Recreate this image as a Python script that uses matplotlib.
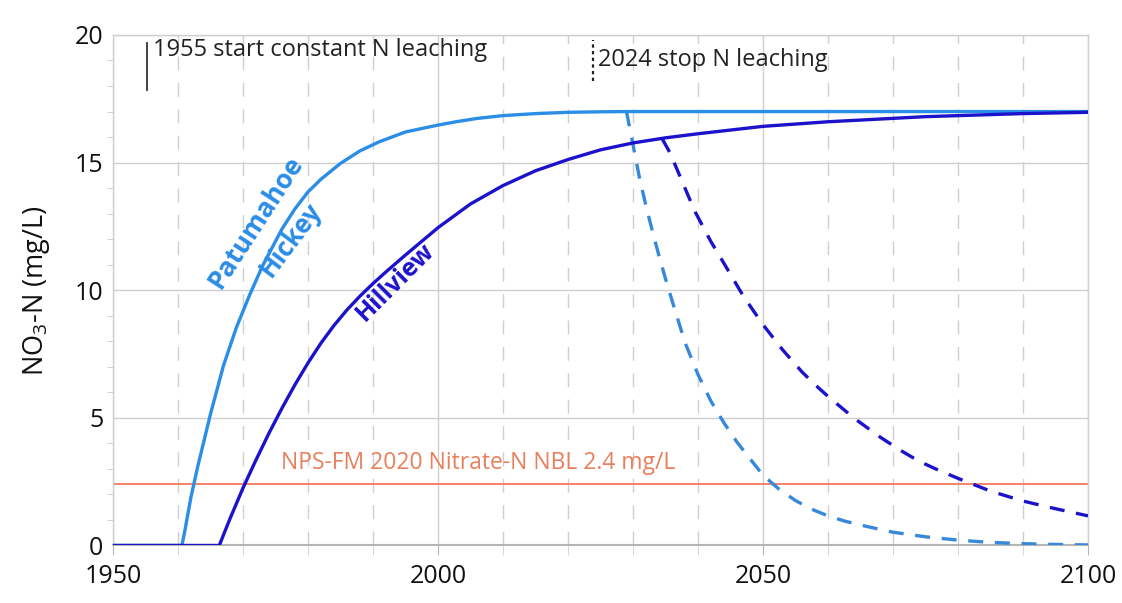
import matplotlib
matplotlib.use("Agg")
import matplotlib.pyplot as plt
from matplotlib.ticker import MultipleLocator

plt.rcParams['font.family'] = ['Open Sans', 'DejaVu Sans']
plt.rcParams['mathtext.default'] = 'regular'

# Patumahoe / Hickey (light blue)
lb_years = [1950, 1960.6, 1961, 1962, 1963, 1965, 1967, 1969, 1971, 1973, 1976,
            1978, 1980, 1982, 1985, 1988, 1991, 1995, 2000, 2003, 2006, 2010,
            2015, 2020, 2025, 2029, 2100]
lb_vals = [0, 0, 0.5, 1.9, 3.05, 5.15, 7.05, 8.55, 9.8, 10.95, 12.4,
           13.19, 13.85, 14.35, 14.97, 15.46, 15.82, 16.2, 16.47, 16.61, 16.73, 16.84,
           16.92, 16.97, 16.99, 17.0, 17.0]

# Hillview (dark blue)
hv_years = [1950, 1966.35, 1968, 1970, 1972, 1974, 1976, 1978, 1980, 1982, 1984,
            1986, 1988, 1990, 1992, 1995, 2000, 2005, 2010, 2015, 2020, 2025,
            2030, 2035, 2040, 2050, 2060, 2075, 2090, 2100]
hv_vals = [0, 0, 1.05, 2.25, 3.35, 4.4, 5.38, 6.3, 7.15, 7.93, 8.62,
           9.23, 9.77, 10.26, 10.72, 11.38, 12.45, 13.38, 14.1, 14.68, 15.12, 15.5,
           15.77, 15.97, 16.13, 16.42, 16.6, 16.8, 16.92, 16.97]

# after leaching stops (dashed)
lb_stop_years = [2029, 2030, 2031, 2032, 2033, 2034, 2035, 2036, 2038, 2040, 2042,
                 2044, 2046, 2048, 2050, 2052.5, 2055, 2057.5, 2060, 2062.5, 2065,
                 2070, 2075, 2080, 2085, 2090, 2095, 2100]
lb_stop_vals = [17.0, 15.7, 14.4, 13.3, 12.3, 11.35, 10.45, 9.6, 7.95, 6.7, 5.65,
                4.8, 4.05, 3.4, 2.75, 2.2, 1.76, 1.42, 1.16, 0.96, 0.8,
                0.52, 0.34, 0.21, 0.12, 0.07, 0.04, 0.02]
hv_stop_years = [2034.5, 2035.7, 2037.5, 2039.5, 2042, 2044, 2047, 2050, 2053, 2056,
                 2058, 2060, 2064, 2068, 2071, 2074, 2077, 2080, 2085, 2090, 2095,
                 2100]
hv_stop_vals = [15.93, 15.38, 14.3, 13.1, 11.9, 11.05, 9.76, 8.65, 7.67, 6.8,
                6.3, 5.84, 4.99, 4.25, 3.75, 3.3, 2.95, 2.63, 2.13, 1.74, 1.44,
                1.16]

nbl = 2.4

light = '#2A8DE6'
dark = '#1C12CC'
grid_c = '#cfcfcf'

fig = plt.figure(figsize=(11.22, 6.03), dpi=100)
ax = fig.add_axes([0.1007, 0.0954, 0.8690, 0.8466])

ax.set_xlim(1950, 2100)
ax.set_ylim(0, 20)
ax.xaxis.set_major_locator(MultipleLocator(50))
ax.xaxis.set_minor_locator(MultipleLocator(10))
ax.yaxis.set_major_locator(MultipleLocator(5))
ax.yaxis.set_minor_locator(MultipleLocator(1))

ax.grid(which='major', axis='both', color=grid_c, lw=1.0)
ax.grid(which='minor', axis='x', color=grid_c, lw=1.0, ls=(0, (10, 9)))
ax.set_axisbelow(True)

for s in ['top', 'right', 'left']:
    ax.spines[s].set_color(grid_c)
    ax.spines[s].set_linewidth(1.0)
ax.spines['bottom'].set_color('#b5b5b5')
ax.spines['bottom'].set_linewidth(1.5)

ax.tick_params(axis='both', which='major', labelsize=18, length=0, pad=7,
               labelcolor='#111111')
ax.tick_params(axis='x', which='major', length=7, color='#b5b5b5', pad=6)
ax.tick_params(axis='x', which='minor', length=7, color='#d0d0d0')
ax.tick_params(axis='y', which='minor', length=4, color='#c8c8c8')
ax.set_xticks([1950, 2000, 2050, 2100])
ax.set_xticklabels(['1950', '2000', '2050', '2100'])

ax.set_ylabel('NO$_3$-N (mg/L)', fontsize=19.5, labelpad=16, color='#111111')

ax.axhline(nbl, color='#F4826A', lw=1.4, zorder=2)
ax.text(1975.8, 3.25, 'NPS-FM 2020 Nitrate-N NBL 2.4 mg/L', color='#E97F5B',
        fontsize=16.5, va='center', ha='left')

ax.plot(lb_stop_years, lb_stop_vals, color='#3588DA', lw=2.4, ls=(0, (4.5, 3.5)),
        zorder=3)
ax.plot(hv_stop_years, hv_stop_vals, color=dark, lw=2.4, ls=(0, (4.5, 3.5)),
        zorder=3)
ax.plot(lb_years, lb_vals, color=light, lw=2.4, zorder=4, solid_joinstyle='round')
ax.plot(hv_years, hv_vals, color=dark, lw=2.4, zorder=4, solid_joinstyle='round')

ax.plot([1955.2, 1955.2], [17.85, 19.7], color='#333333', lw=1.3)
ax.text(1956.1, 19.4, '1955 start constant N leaching', fontsize=17,
        va='center', ha='left', color='#222222')
ax.plot([2023.8, 2023.8], [18.2, 19.8], color='#222222', lw=1.6, ls=(0, (1.5, 1.5)))
ax.text(2024.6, 19.0, '2024 stop N leaching', fontsize=17, va='center',
        ha='left', color='#222222')

ax.text(1972.0, 12.67, 'Patumahoe', color=light, fontsize=19, fontweight='bold',
        rotation=57, ha='center', va='center', rotation_mode='anchor')
ax.text(1977.4, 11.97, 'Hickey', color=light, fontsize=18.5, fontweight='bold',
        rotation=53, ha='center', va='center', rotation_mode='anchor')
ax.text(1993.4, 10.33, 'Hillview', color=dark, fontsize=18, fontweight='bold',
        rotation=45, ha='center', va='center', rotation_mode='anchor')

fig.savefig('out.png', dpi=100)
